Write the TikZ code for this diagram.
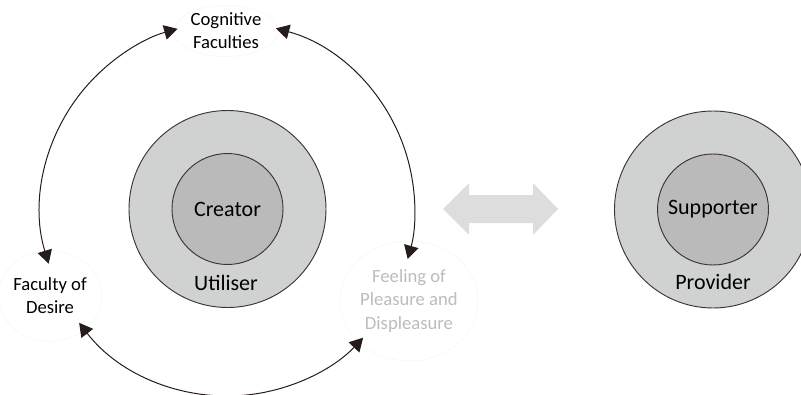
\documentclass[tikz,border=0pt]{standalone}
\usepackage{fontspec}
\setmainfont{Carlito}
\usetikzlibrary{arrows.meta,calc,shapes.geometric}
\definecolor{ringfill}{RGB}{208,209,209}
\definecolor{corefill}{RGB}{186,186,186}
\definecolor{ringedge}{RGB}{62,52,52}
\definecolor{cycline}{RGB}{38,28,28}
\definecolor{swapfill}{RGB}{221,221,221}
\definecolor{palefont}{RGB}{188,188,188}
\begin{document}
\begin{tikzpicture}[x=0.75pt, y=0.75pt,
      ring/.style={circle, draw=ringedge, line width=0.7pt, fill=ringfill,
                   minimum size=147.75pt, inner sep=0pt},
      core/.style={circle, draw=ringedge, line width=0.7pt, fill=corefill,
                   minimum size=83.25pt, inner sep=0pt,
                   font=\fontsize{16.5}{19}\selectfont},
      role/.style={font=\fontsize{16.5}{19}\selectfont, inner sep=0pt},
      faculty/.style={ellipse, draw=black!4, inner sep=0pt, align=center,
                      font=\fontsize{14}{17.3}\selectfont},
      cyc/.style={draw=cycline, line width=0.75pt,
                  {Triangle[length=10pt, width=11pt]}-{Triangle[length=10pt, width=11pt]}}]
    \useasboundingbox (0,0) rectangle (801,394);
    \coordinate (mid) at (227.5,185);
    \node[ring] (utiliser) at (mid) {};
    \node[core] (creator) at (mid) {Creator};
    \node[role] at (226,111) {Utiliser};
    \node[ring] (provider) at (713,184.5) {};
    \node[core] (supporter) at (713,184.5) {Supporter};
    \node[role] at (713,112) {Provider};
    \node[faculty, minimum width=78pt, minimum height=38pt] (cog) at (226,363) {Cognitive\\Faculties};
    \node[faculty, minimum width=75pt, minimum height=68pt] (des) at (50,98) {Faculty of\\Desire};
    \node[faculty, minimum width=94pt, minimum height=90pt, text=palefont] (feel) at (409,93) {Feeling of\\Pleasure and\\Displeasure};
    \coordinate (cogL) at ($(mid)+(105.5:187)$);
    \coordinate (cogR) at ($(mid)+(75:187)$);
    \coordinate (desT) at ($(mid)+(197:187)$);
    \coordinate (desB) at ($(mid)+(217.5:187)$);
    \coordinate (feelT) at ($(mid)+(-15.5:187)$);
    \coordinate (feelB) at ($(mid)+(316.5:187)$);
    \draw[cyc] (desT) arc[start angle=197, end angle=105.5, radius=187];
    \draw[cyc] (cogR) arc[start angle=75, end angle=-15.5, radius=187];
    \draw[cyc] (desB) arc[start angle=217.5, end angle=316.5, radius=187];
    \fill[swapfill] (443,185) -- (469,211) -- (469,199) -- (533,199) -- (533,211)
      -- (558,185) -- (533,159) -- (533,171) -- (469,171) -- (469,159) -- cycle;
  \end{tikzpicture}
\end{document}
